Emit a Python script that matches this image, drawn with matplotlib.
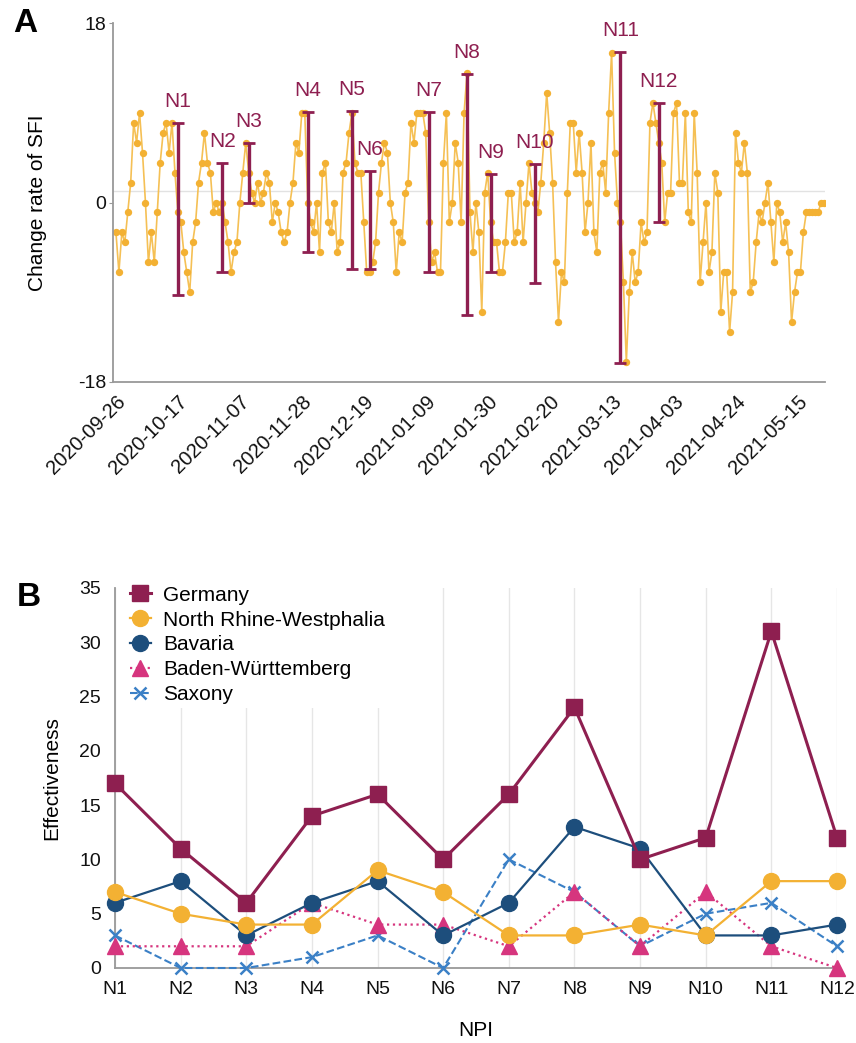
import matplotlib
matplotlib.use("Agg")
import matplotlib.pyplot as plt
import matplotlib.dates as mdates
import pandas as pd

plt.rcParams['font.family'] = ['Liberation Sans', 'DejaVu Sans']
plt.rcParams['axes.unicode_minus'] = False

# ---- panel A: daily change rate of SFI ----
start_date = '2020-09-26'
sfi_change = [
    -3, -7, -3, -4, -1, 2, 8, 6, 9, 5,
    0, -6, -3, -6, -1, 4, 7, 8, 5, 8,
    3, -1, -2, -5, -7, -9, -4, -2, 2, 4,
    7, 4, 3, -1, 0, -1, 0, -2, -4, -7,
    -5, -4, 0, 3, 6,
    3, 1, 0, 2, 0, 1, 3, 2, -2, 0, -1, -3, -4, -3, 0,
    2, 6, 5, 9, 9, 0, -2, -3, 0, -5,
    3, 4, -2, -3, 0, -5, -4, 3, 4, 7,
    9, 4, 3, 3, -2, -7, -7, -6, -4, 1,
    4, 6, 5, 0, -2, -7, -3, -4, 1, 2,
    8, 6, 9, 9, 9, 7, -2, -6, -5, -7,
    -7, 4, 9, -2, 0, 6, 4, -2, 9, 13,
    -1, -5, 0, -3, -11, 1, 3, -2, -4, -4,
    -7, -7, -4, 1, 1, -4, -3, 2, -4, 0,
    4, 1, 0, -1, 2, 6, 11, 7, 2, -6,
    -12, -7, -8, 1, 8, 8, 3, 7, 3, -3,
    0, 6, -3, -5, 3, 4, 1, 9, 15, 5,
    0, -2, -8, -16, -9, -5, -8, -7, -2, -4,
    -3, 8, 10, 8, 6, 4, -2, 1, 1, 9,
    10, 2, 2, 9, -1, -2, 9, 3, -8, -4,
    0, -7, -5, 3, 1, -11, -7, -7, -13, -9,
    7, 4, 3, 6, 3, -9, -8, -4, -1, -2,
    0, 2, -2, -6, 0, -1, -4, -2, -5, -12,
    -9, -7, -7, -3, -1, -1, -1, -1, -1, 0,
    0,
]
ref_level = 1.2

npi_labels = ['N1', 'N2', 'N3', 'N4', 'N5', 'N6', 'N7', 'N8', 'N9', 'N10', 'N11', 'N12']
npi_dates = ['2020-10-17', '2020-11-01', '2020-11-10', '2020-11-30', '2020-12-15', '2020-12-21',
             '2021-01-10', '2021-01-23', '2021-01-31', '2021-02-15', '2021-03-16', '2021-03-29']
npi_top = [8, 4, 6, 9.1, 9.2, 3.2, 9.1, 12.9, 2.9, 3.9, 15.1, 10]
npi_bottom = [-9.3, -7, 0, -5, -6.7, -6.7, -7, -11.3, -7, -8.1, -16.1, -2]

# ---- panel B: effectiveness per NPI ----
germany = [17, 11, 6, 14, 16, 10, 16, 24, 10, 12, 31, 12]
nrw = [7, 5, 4, 4, 9, 7, 3, 3, 4, 3, 8, 8]
bavaria = [6, 8, 3, 6, 8, 3, 6, 13, 11, 3, 3, 4]
baden = [2, 2, 2, 6, 4, 4, 2, 7, 2, 7, 2, 0]
saxony = [3, 0, 0, 1, 3, 0, 10, 7, 2, 5, 6, 2]

maroon = '#8E1F50'
orange = '#F3B133'
W, H = 856, 1043

fig = plt.figure(figsize=(W / 100, H / 100), dpi=100)

# ---------- A ----------
dates = pd.date_range(start_date, periods=len(sfi_change), freq='D')
axA = fig.add_axes([113 / W, 1 - 382 / H, (825 - 113) / W, (382 - 23) / H])
axA.axhline(ref_level, color='#e2e2e2', lw=1, zorder=0)
axA.plot(dates, sfi_change, color='#F5C055', lw=1.2, marker='o', ms=5.3,
         mfc=orange, mec=orange, mew=0, zorder=2)

nd = pd.to_datetime(npi_dates)
mids = [(t + b) / 2 for t, b in zip(npi_top, npi_bottom)]
half = [(t - b) / 2 for t, b in zip(npi_top, npi_bottom)]
axA.errorbar(nd, mids, yerr=half, fmt='none', ecolor=maroon, elinewidth=2.4,
             capsize=4, capthick=2, zorder=3)
for d, t, lab in zip(nd, npi_top, npi_labels):
    axA.text(d, t + 1.2, lab, color=maroon, fontsize=15, ha='center', va='bottom')

axA.set_ylim(-18, 18)
axA.set_yticks([-18, 0, 18])
axA.set_xlim(dates[0] - pd.Timedelta(days=1), dates[-1] + pd.Timedelta(hours=8))
ticks = pd.date_range(start_date, '2021-05-15', freq='21D')
axA.set_xticks(ticks)
axA.xaxis.set_major_formatter(mdates.DateFormatter('%Y-%m-%d'))
for lbl in axA.get_xticklabels():
    lbl.set_rotation(45)
    lbl.set_ha('right')
    lbl.set_rotation_mode('anchor')
axA.tick_params(axis='x', length=0, pad=7, labelsize=14.5, colors='#111111')
axA.tick_params(axis='y', length=3, color='#999999', pad=2, labelsize=14, colors='#111111')
axA.set_ylabel('Change rate of SFI', fontsize=15)
axA.yaxis.set_label_coords(-0.092, 0.5)
for s in ['top', 'right']:
    axA.spines[s].set_visible(False)
for s in ['left', 'bottom']:
    axA.spines[s].set_color('#999999')
    axA.spines[s].set_linewidth(1.3)

# ---------- B ----------
axB = fig.add_axes([115 / W, 1 - 968 / H, (837 - 115) / W, (968 - 588) / H])
x = list(range(len(npi_labels)))
axB.plot(x, saxony, color='#3B80C6', ls='--', lw=1.5, marker='x', ms=9, mew=1.8,
         label='Saxony', clip_on=False, zorder=3)
axB.plot(x, baden, color='#D6357E', ls=':', lw=1.6, marker='^', ms=11,
         label='Baden-Württemberg', clip_on=False, zorder=4)
axB.plot(x, bavaria, color='#1D4E7C', lw=1.6, marker='o', ms=11.5,
         label='Bavaria', clip_on=False, zorder=5)
axB.plot(x, nrw, color=orange, lw=1.6, marker='o', ms=11.5,
         label='North Rhine-Westphalia', clip_on=False, zorder=6)
axB.plot(x, germany, color=maroon, lw=2.2, marker='s', ms=11,
         label='Germany', clip_on=False, zorder=7)

axB.set_xlim(0, len(npi_labels) - 1)
axB.set_ylim(0, 35)
axB.set_yticks(range(0, 36, 5))
axB.set_xticks(x)
axB.set_xticklabels(npi_labels)
axB.grid(axis='x', color='#e6e6e6', lw=1)
axB.set_axisbelow(True)
axB.tick_params(axis='both', length=0, labelsize=14, colors='#111111')
axB.tick_params(axis='x', pad=9)
axB.tick_params(axis='y', pad=10)
axB.set_xlabel('NPI', fontsize=15, labelpad=17)
axB.set_ylabel('Effectiveness', fontsize=15)
axB.yaxis.set_label_coords(-0.074, 0.5)
for s in ['top', 'right']:
    axB.spines[s].set_visible(False)
for s in ['left', 'bottom']:
    axB.spines[s].set_color('#999999')
    axB.spines[s].set_linewidth(1.3)

h, l = axB.get_legend_handles_labels()
leg = axB.legend(h[::-1], l[::-1], loc='upper left', bbox_to_anchor=(0.015, 1.017),
                 fontsize=15, frameon=True, facecolor='white', edgecolor='none',
                 framealpha=1, labelspacing=0.28, handlelength=1.0,
                 handletextpad=0.6, borderpad=0.2, borderaxespad=0)
leg.set_zorder(10)

fig.text(13 / W, 1 - 8 / H, 'A', fontsize=24, fontweight='bold', va='top', ha='left')
fig.text(17 / W, 1 - 582 / H, 'B', fontsize=24, fontweight='bold', va='top', ha='left')

fig.savefig('out.png', dpi=100)
